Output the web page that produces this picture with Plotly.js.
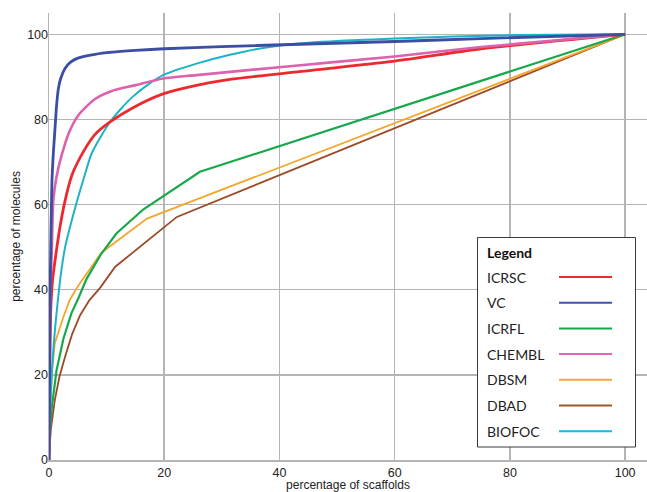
<!DOCTYPE html>
<html><head><meta charset="utf-8">
<script src="https://cdn.plot.ly/plotly-3.0.1.min.js"></script>
<style>body{margin:0;padding:0;background:#fff}#chart{width:647px;height:492px}</style>
</head><body><div id="chart"></div>
<script>
const seriesNames = ["ICRSC","VC","ICRFL","CHEMBL","DBSM","DBAD","BIOFOC"];
const lineColors = ["#ec2a2e","#3b4ea3","#18a84c","#dc62ae","#f4a62a","#9c4a26","#1cb2c8"];
const legendColors = ["#ee2a30","#4055a8","#10a84a","#de67b0","#f7a548","#9c5a2a","#10b8ee"];
const lineWidths = [2.8,2.8,2.2,2.6,1.8,1.8,2];
const lineShapes = ["spline","spline","linear","spline","linear","linear","spline"];

const icrscX = [0,0.1,0.3,0.6,1.3,2,2.8,4,6,8,10.6,14.5,19.8,25.6,31.4,41.8,60,75,100];
const icrscY = [0,20,35,42,49.3,55.5,61,67,72.5,76.5,79.4,82.7,86,88,89.4,91,93.7,96.6,100];
const vcX = [0,0.1,0.25,0.5,0.75,1,1.3,1.6,2,2.8,3.8,5,8,11,15,20,30,42,60,75,100];
const vcY = [0,20,45,65,72,77,83,87,89.5,92,93.5,94.4,95.3,95.8,96.2,96.6,97.1,97.6,98.3,99,100];
const icrflX = [0,0.2,0.5,1.3,2.5,3.9,5.1,6.5,9.1,11.7,16.4,26.2,100];
const icrflY = [0,7,12.5,21,28.5,34.5,38,42.5,48.5,53.2,58.9,67.7,100];
const chemblX = [0,0.1,0.3,0.5,0.75,1.3,2.2,3.5,5.1,8,10.9,14.9,19.8,25.6,41.8,60,75,100];
const chemblY = [0,25,42,50,61,66.5,71.6,77,81,84.8,86.7,88,89.6,90.4,92.5,94.8,97,100];
const dbsmX = [0,0.2,0.5,1,2.5,3.6,5.1,7.1,9.1,17,100];
const dbsmY = [0,12,20.4,27.4,33.6,37.6,41,45,48.7,56.7,100];
const dbadX = [0,0.3,1,1.8,2.8,4,5.4,7,8.9,11.5,22.2,100];
const dbadY = [0,7,14,19.5,24.3,29.5,34,37.5,40.5,45.4,57.1,100];
const biofocX = [0,0.3,0.7,1.5,2.2,2.8,4.7,6,7.4,9,10.6,12.5,14.5,17,19.8,25.6,31.4,37.2,45,60,80,100];
const biofocY = [0,15,25,37,45,50,60,66,72,76,79.4,82.5,85.3,88,90.4,93.1,95.2,96.8,98,99,99.8,100];

const xs = [icrscX,vcX,icrflX,chemblX,dbsmX,dbadX,biofocX];
const ys = [icrscY,vcY,icrflY,chemblY,dbsmY,dbadY,biofocY];
const drawOrder = [5,4,2,6,0,3,1];

const traces = drawOrder.map(i => ({
  type:"scatter", mode:"lines", name:seriesNames[i], x:xs[i], y:ys[i],
  line:{color:lineColors[i], width:lineWidths[i], shape:lineShapes[i], smoothing:0.7}, showlegend:false, hoverinfo:"skip"
}));

// manual legend (text left, line sample right)
const pyToPaper = py => 1-(py-13)/447;
const pxToPaper = px => (px-49)/598;
const shapes = [{type:"rect", xref:"paper", yref:"paper", x0:pxToPaper(477.5), x1:pxToPaper(635.5), y0:pyToPaper(447), y1:pyToPaper(237.5),
  line:{color:"#3a3a3a", width:1}, fillcolor:"#ffffff", layer:"above"}];
const annotations = [{xref:"paper", yref:"paper", x:pxToPaper(485), y:pyToPaper(252), xanchor:"left", yanchor:"middle",
  text:"<b>Legend</b>", showarrow:false, font:{family:"Lato, 'Open Sans', sans-serif", size:14, color:"#111"}}];
seriesNames.forEach((n,i) => {
  const py = 277 + i*25.7;
  annotations.push({xref:"paper", yref:"paper", x:pxToPaper(485), y:pyToPaper(py), xanchor:"left", yanchor:"middle",
    text:n, showarrow:false, font:{family:"Lato, 'Open Sans', sans-serif", size:14, color:"#222"}});
  shapes.push({type:"line", xref:"paper", yref:"paper", x0:pxToPaper(559), x1:pxToPaper(612), y0:pyToPaper(py), y1:pyToPaper(py),
    line:{color:legendColors[i], width:2}, layer:"above"});
});

const layout = {
  width:647, height:492, margin:{l:49, r:0, t:13, b:32},
  paper_bgcolor:"#fff", plot_bgcolor:"#fff",
  font:{family:"'Liberation Sans', Arial, sans-serif", color:"#222"},
  xaxis:{range:[0,103.8], tickvals:[0,20,40,60,80,100], ticks:"", showgrid:true, gridcolor:"#b5b5b5", gridwidth:1.5,
    showline:true, linecolor:"#b5b5b5", linewidth:1.5, zeroline:false, tickfont:{size:12.5},
    title:{text:"percentage of scaffolds", font:{size:12}, standoff:0}},
  yaxis:{range:[0,105], tickvals:[0,20,40,60,80,100], ticks:"", showgrid:true, gridcolor:"#b5b5b5", gridwidth:1.5,
    showline:true, linecolor:"#b5b5b5", linewidth:1.5, zeroline:false, tickfont:{size:12.5}, ticklabelstandoff:-3,
    title:{text:"percentage of molecules", font:{size:12}, standoff:4}},
  shapes:shapes, annotations:annotations, showlegend:false
};
Plotly.newPlot("chart", traces, layout, {staticPlot:true});
</script></body></html>
